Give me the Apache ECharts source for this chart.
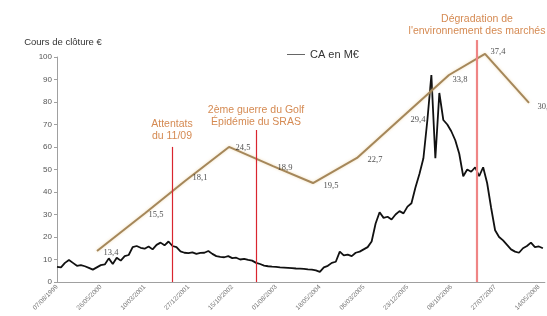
<!DOCTYPE html>
<html><head><meta charset="utf-8">
<script src="https://cdn.jsdelivr.net/npm/echarts@6/dist/echarts.min.js"></script>
<style>html,body{margin:0;padding:0;background:#fff}#c{width:547px;height:316px}</style>
</head><body><div id="c"></div>
<script>
// Stock closing price (€), one value per step of the index axis
var stockValues = [
 6.7,6.5,8.5,9.8,8.5,7.2,7.5,7.0,6.3,5.5,
 6.5,7.5,7.8,10.5,8.0,10.8,9.5,11.5,12.0,15.5,
 16.0,15.2,14.8,15.8,14.5,16.5,17.5,16.3,18.0,16.0,
 15.5,13.6,13.0,12.8,13.2,12.5,12.9,13.0,13.8,12.5,
 11.5,11.2,11.0,11.5,10.6,10.8,10.0,10.3,9.8,9.5,
 8.5,8.0,7.3,7.0,6.8,6.7,6.5,6.4,6.3,6.2,
 6.0,5.9,5.8,5.6,5.5,5.2,4.5,6.5,7.2,8.5,
 9.0,13.5,11.8,12.2,11.5,13.0,13.5,14.5,15.5,18.0,
 26.0,31.0,28.5,29.0,27.8,30.0,31.5,30.5,33.5,35.0,
 42.0,48.0,55.0,72.0,92.0,55.0,84.0,72.0,70.0,67.0,
 63.0,57.0,47.0,50.0,49.0,51.0,47.0,51.0,44.0,33.0,
 23.0,20.0,18.5,16.5,14.5,13.5,13.0,15.0,16.0,17.5,
 15.5,15.8,15.0
];
var tickLabels = ["07/08/1999","26/05/2000","10/03/2001","27/12/2001","15/10/2002","01/08/2003",
  "18/05/2004","06/03/2005","23/12/2005","08/10/2006","27/07/2007","14/05/2008"];
var tickStep = 11;
var yTicks = [0,10,20,30,40,50,60,70,80,90,100];

// Overlay (CA en M€) line, on its own hidden scale
var brownIdx = [10,22,32,43,54,64,75,88,98,107,118];
var brownVal = [11.0,24.4,35.8,47.9,41.1,35.1,44.0,60.6,73.4,80.9,63.5];
var brownLabels = ["13,4","15,5","18,1","24,5","18,9","19,5","22,7","29,4","33,8","37,4","30,8"];

// Events
var eventIdx = [28.75,49.75,105];
var eventTop = [47.9,53.9,85.8];
var eventText = ["Attentats\ndu 11/09","2ème guerre du Golf\nÉpidémie du SRAS","Dégradation de\nl'environnement des marchés"];

// ---- styles ----
var labelOffsets = [[1,2],[-2,2],[2,-3],[1,1],[-1,2],[5,3],[5,2],[-4,9],[-2,5],[0,-2],[3,4]];
var eventStyles = [
  {color:'#d9252f',width:1.2,dist:5},
  {color:'#d9252f',width:1.2,dist:2},
  {color:'#ef8585',width:2.2,dist:3}
];

var chart = echarts.init(document.getElementById('c'), null, {renderer:'canvas'});
var xMax = stockValues.length - 0.5;

var stockData = stockValues.map(function(v,i){return [i,v];});
var brownData = brownIdx.map(function(x,i){return [x,brownVal[i]];});
var brownLabelData = brownIdx.map(function(x,i){
  return {value:[x,brownVal[i]], label:{offset:labelOffsets[i]}};
});
var markData = eventIdx.map(function(x,i){
  var s = eventStyles[i];
  return [
    {coord:[x,0], name:eventText[i], lineStyle:{color:s.color,width:s.width,type:'solid'},
     label:{show:true, position:'end', distance:s.dist, formatter:'{b}', color:'#d58a52',
       fontFamily:'Liberation Sans', fontSize:10.5, lineHeight:12, align:'center'}},
    {coord:[x,eventTop[i]]}
  ];
});

var option = {
  animation:false,
  backgroundColor:'#fff',
  grid:[
    {left:57,right:0,top:57,bottom:34},
    {left:57,right:0,top:0,bottom:34}
  ],
  legend:{
    data:['CA en M€'], left:282, top:44, icon:'rect', itemWidth:18, itemHeight:1, itemGap:2,
    itemStyle:{color:'#666'},
    textStyle:{fontFamily:'Liberation Sans', fontSize:11, color:'#333'}
  },
  xAxis:[
    {type:'value', gridIndex:0, min:0, max:xMax, interval:tickStep,
     axisLine:{show:true, lineStyle:{color:'#a0a0a0'}}, axisTick:{show:false}, splitLine:{show:false},
     axisLabel:{rotate:45, fontSize:6.5, color:'#777', margin:4, fontFamily:'Liberation Sans',
       formatter:function(v){var k=Math.round(v/tickStep); return (Math.abs(v-k*tickStep)<1e-6 && tickLabels[k])?tickLabels[k]:'';}}},
    {type:'value', gridIndex:1, min:0, max:xMax, show:false}
  ],
  yAxis:[
    {type:'value', gridIndex:0, min:0, max:100, interval:10,
     name:'Cours de clôture €', nameLocation:'end', nameGap:10,
     nameTextStyle:{fontFamily:'Liberation Sans', fontSize:9.5, color:'#333', align:'center', padding:[0,0,0,12]},
     axisLine:{show:true, lineStyle:{color:'#a0a0a0'}},
     axisTick:{show:true, length:3, lineStyle:{color:'#a0a0a0'}},
     splitLine:{show:false},
     axisLabel:{fontSize:8, color:'#555', margin:5, fontFamily:'Liberation Sans',
       formatter:function(v){return yTicks.indexOf(v)>=0?String(v):'';}}},
    {type:'value', gridIndex:1, min:0, max:100, show:false}
  ],
  series:[
    {name:'CA en M€', type:'line', xAxisIndex:0, yAxisIndex:0, data:stockData, showSymbol:false,
     lineStyle:{color:'#111', width:1.8}, itemStyle:{color:'#111'}, z:3},
    {name:'overlay', type:'line', xAxisIndex:1, yAxisIndex:1, data:brownData, showSymbol:false,
     lineStyle:{color:'#a5875a', width:2, shadowColor:'rgba(235,205,150,0.7)', shadowBlur:3},
     itemStyle:{color:'#a5875a'}, z:4},
    {name:'overlayLabels', type:'scatter', xAxisIndex:1, yAxisIndex:1, data:brownLabelData,
     symbolSize:1, itemStyle:{color:'rgba(0,0,0,0)'}, silent:true, z:6,
     label:{show:true, position:'right', distance:5, color:'#222', fontFamily:'Liberation Serif', fontSize:8.5,
       formatter:function(p){return brownLabels[p.dataIndex];}}},
    {name:'events', type:'line', xAxisIndex:1, yAxisIndex:1, data:[], z:5,
     markLine:{silent:true, symbol:['none','none'], animation:false, data:markData}}
  ]
};
chart.setOption(option);
</script>
</body></html>
